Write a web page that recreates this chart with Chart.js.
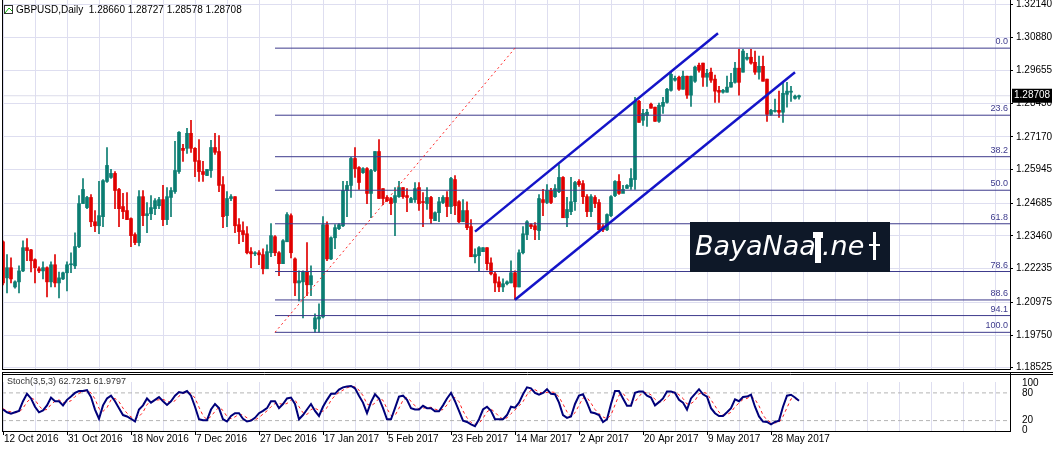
<!DOCTYPE html>
<html><head><meta charset="utf-8">
<script src="https://cdn.jsdelivr.net/npm/chart.js@4/dist/chart.umd.min.js"></script>
<style>
html,body{margin:0;padding:0;background:#fff;width:1053px;height:451px;overflow:hidden;position:relative}
#c1{position:absolute;left:0;top:-10px}
#c2{position:absolute;left:0;top:372px}
</style></head><body>
<canvas id="c1" width="1053" height="389"></canvas>
<canvas id="c2" width="1053" height="79"></canvas>
<script>
const symbolTitle = 'GBPUSD,Daily  1.28660 1.28727 1.28578 1.28708';
const stochTitle = 'Stoch(3,5,3) 62.7231 61.9797';
const dateLabels = ['12 Oct 2016','31 Oct 2016','18 Nov 2016','7 Dec 2016','27 Dec 2016','17 Jan 2017','5 Feb 2017','23 Feb 2017','14 Mar 2017','2 Apr 2017','20 Apr 2017','9 May 2017','28 May 2017'];
const priceTicks = [1.32140,1.30880,1.29655,1.28430,1.27170,1.25945,1.24685,1.23460,1.22235,1.20975,1.19750,1.18525];
const lastPrice = 1.28708;
const opens = [1.2324,1.2189,1.2227,1.2155,1.2174,1.2215,1.2302,1.2294,1.2257,1.2223,1.2215,1.2227,1.2174,1.2238,1.2170,1.2185,1.2208,1.2238,1.2234,1.2306,1.2467,1.2452,1.2490,1.2399,1.2384,1.2418,1.2550,1.2565,1.2580,1.2520,1.2456,1.2441,1.2411,1.2351,1.2321,1.2493,1.2422,1.2429,1.2448,1.2459,1.2482,1.2407,1.2490,1.2512,1.2587,1.2674,1.2674,1.2730,1.2674,1.2628,1.2587,1.2572,1.2591,1.2677,1.2662,1.2538,1.2422,1.2486,1.2493,1.2388,1.2366,1.2354,1.2287,1.2279,1.2283,1.2276,1.2223,1.2283,1.2343,1.2283,1.2242,1.2324,1.2422,1.2260,1.2170,1.2174,1.2211,1.2163,1.1998,1.2035,1.2043,1.2388,1.2260,1.2339,1.2373,1.2384,1.2516,1.2535,1.2636,1.2602,1.2583,1.2598,1.2505,1.2591,1.2662,1.2523,1.2490,1.2486,1.2471,1.2493,1.2527,1.2497,1.2471,1.2482,1.2527,1.2474,1.2467,1.2490,1.2403,1.2433,1.2471,1.2490,1.2456,1.2557,1.2474,1.2399,1.2441,1.2381,1.2268,1.2272,1.2287,1.2302,1.2245,1.2204,1.2174,1.2155,1.2167,1.2170,1.2208,1.2155,1.2283,1.2351,1.2388,1.2384,1.2366,1.2482,1.2471,1.2516,1.2493,1.2512,1.2565,1.2414,1.2437,1.2474,1.2550,1.2542,1.2493,1.2437,1.2490,1.2471,1.2381,1.2369,1.2422,1.2497,1.2550,1.2505,1.2524,1.2531,1.2557,1.2850,1.2779,1.2797,1.2839,1.2828,1.2775,1.2831,1.2846,1.2891,1.2929,1.2940,1.2895,1.2944,1.2873,1.2925,1.2985,1.2993,1.2940,1.2959,1.2933,1.2891,1.2884,1.2884,1.2903,1.2921,1.2974,1.2959,1.3008,1.3015,1.2996,1.2959,1.2981,1.2933,1.2801,1.2812,1.2816,1.2809,1.2876,1.2884,1.2861,1.2866];
const highs = [1.2328,1.2276,1.2264,1.2178,1.2234,1.2328,1.2336,1.2296,1.2260,1.2230,1.2249,1.2230,1.2249,1.2276,1.2211,1.2211,1.2249,1.2283,1.2358,1.2497,1.2561,1.2494,1.2501,1.2441,1.2550,1.2557,1.2677,1.2595,1.2587,1.2524,1.2505,1.2508,1.2414,1.2358,1.2516,1.2516,1.2471,1.2497,1.2486,1.2490,1.2535,1.2527,1.2527,1.2700,1.2737,1.2689,1.2749,1.2779,1.2677,1.2707,1.2625,1.2595,1.2704,1.2730,1.2722,1.2568,1.2512,1.2501,1.2493,1.2411,1.2399,1.2381,1.2302,1.2287,1.2291,1.2298,1.2313,1.2392,1.2347,1.2287,1.2332,1.2433,1.2429,1.2264,1.2215,1.2215,1.2321,1.2234,1.2054,1.2092,1.2418,1.2399,1.2343,1.2388,1.2392,1.2550,1.2550,1.2640,1.2677,1.2606,1.2602,1.2602,1.2595,1.2662,1.2707,1.2523,1.2497,1.2490,1.2527,1.2550,1.2527,1.2523,1.2490,1.2546,1.2546,1.2508,1.2527,1.2494,1.2436,1.2490,1.2497,1.2512,1.2565,1.2572,1.2478,1.2482,1.2474,1.2407,1.2298,1.2306,1.2302,1.2302,1.2264,1.2211,1.2193,1.2185,1.2178,1.2253,1.2215,1.2294,1.2381,1.2403,1.2392,1.2396,1.2501,1.2520,1.2538,1.2524,1.2538,1.2613,1.2568,1.2490,1.2565,1.2550,1.2557,1.2553,1.2501,1.2501,1.2497,1.2482,1.2388,1.2429,1.2497,1.2553,1.2576,1.2535,1.2538,1.2598,1.2865,1.2854,1.2820,1.2820,1.2843,1.2828,1.2843,1.2865,1.2899,1.2959,1.2944,1.2944,1.2963,1.2944,1.2944,1.2982,1.2993,1.2993,1.2970,1.2974,1.2948,1.2906,1.2895,1.2944,1.2955,1.2996,1.3045,1.3045,1.3030,1.3045,1.3038,1.3019,1.3019,1.2933,1.2820,1.2858,1.2888,1.2921,1.2921,1.2906,1.2873,1.2873];
const lows = [1.2163,1.2133,1.2170,1.2150,1.2133,1.2212,1.2253,1.2211,1.2170,1.2208,1.2185,1.2118,1.2155,1.2155,1.2114,1.2182,1.2140,1.2208,1.2223,1.2302,1.2467,1.2448,1.2381,1.2362,1.2354,1.2381,1.2546,1.2561,1.2448,1.2381,1.2411,1.2407,1.2306,1.2313,1.2309,1.2384,1.2358,1.2407,1.2426,1.2448,1.2384,1.2388,1.2418,1.2505,1.2580,1.2625,1.2655,1.2659,1.2568,1.2550,1.2550,1.2572,1.2565,1.2651,1.2512,1.2377,1.2381,1.2478,1.2358,1.2317,1.2324,1.2279,1.2227,1.2272,1.2238,1.2204,1.2223,1.2268,1.2272,1.2197,1.2242,1.2324,1.2264,1.2122,1.2103,1.2039,1.2122,1.2122,1.1986,1.1986,1.2039,1.2253,1.2257,1.2298,1.2369,1.2381,1.2418,1.2490,1.2565,1.2520,1.2580,1.2467,1.2414,1.2587,1.2486,1.2463,1.2474,1.2426,1.2347,1.2490,1.2486,1.2437,1.2471,1.2471,1.2441,1.2381,1.2445,1.2392,1.2403,1.2399,1.2467,1.2418,1.2429,1.2426,1.2396,1.2399,1.2369,1.2268,1.2245,1.2215,1.2287,1.2219,1.2200,1.2137,1.2137,1.2137,1.2163,1.2170,1.2107,1.2155,1.2279,1.2332,1.2373,1.2332,1.2332,1.2422,1.2467,1.2467,1.2490,1.2508,1.2414,1.2381,1.2426,1.2441,1.2531,1.2467,1.2418,1.2418,1.2452,1.2369,1.2362,1.2366,1.2418,1.2493,1.2501,1.2508,1.2524,1.2520,1.2520,1.2771,1.2760,1.2756,1.2824,1.2775,1.2771,1.2805,1.2843,1.2888,1.2925,1.2891,1.2895,1.2861,1.2831,1.2921,1.2959,1.2906,1.2906,1.2921,1.2846,1.2846,1.2880,1.2884,1.2903,1.2918,1.2873,1.2959,1.3004,1.2989,1.2951,1.2933,1.2925,1.2775,1.2797,1.2809,1.2790,1.2771,1.2828,1.2850,1.2858,1.2858];
const closes = [1.2170,1.2227,1.2185,1.2174,1.2215,1.2302,1.2291,1.2253,1.2227,1.2215,1.2227,1.2174,1.2238,1.2170,1.2189,1.2208,1.2238,1.2240,1.2306,1.2467,1.2520,1.2490,1.2399,1.2384,1.2422,1.2553,1.2610,1.2580,1.2516,1.2448,1.2437,1.2407,1.2347,1.2321,1.2493,1.2422,1.2429,1.2452,1.2478,1.2482,1.2407,1.2493,1.2516,1.2591,1.2734,1.2666,1.2730,1.2674,1.2625,1.2587,1.2576,1.2595,1.2677,1.2659,1.2535,1.2418,1.2486,1.2493,1.2384,1.2362,1.2351,1.2283,1.2279,1.2283,1.2275,1.2223,1.2287,1.2347,1.2283,1.2242,1.2328,1.2426,1.2283,1.2170,1.2178,1.2211,1.2163,1.2197,1.2039,1.2043,1.2388,1.2260,1.2339,1.2377,1.2388,1.2516,1.2535,1.2636,1.2598,1.2546,1.2598,1.2505,1.2591,1.2662,1.2486,1.2486,1.2478,1.2467,1.2497,1.2527,1.2493,1.2490,1.2486,1.2523,1.2467,1.2471,1.2490,1.2411,1.2433,1.2474,1.2490,1.2456,1.2561,1.2459,1.2399,1.2441,1.2377,1.2268,1.2276,1.2302,1.2302,1.2242,1.2204,1.2170,1.2155,1.2167,1.2174,1.2208,1.2155,1.2283,1.2354,1.2399,1.2381,1.2369,1.2486,1.2471,1.2516,1.2471,1.2523,1.2565,1.2414,1.2445,1.2474,1.2546,1.2538,1.2493,1.2437,1.2493,1.2467,1.2369,1.2369,1.2426,1.2493,1.2550,1.2505,1.2520,1.2535,1.2561,1.2850,1.2771,1.2805,1.2809,1.2824,1.2775,1.2835,1.2846,1.2895,1.2951,1.2936,1.2895,1.2944,1.2873,1.2944,1.2978,1.2966,1.2940,1.2955,1.2929,1.2888,1.2884,1.2891,1.2903,1.2921,1.2974,1.2921,1.3038,1.3015,1.2993,1.2959,1.2981,1.2925,1.2801,1.2816,1.2816,1.2809,1.2880,1.2888,1.2888,1.2869,1.2871];
const stochK = [44,38,35,38,41,62,78,68,50,38,42,53,70,62,62,53,65,72,80,84,84,86,71,44,24,53,68,74,62,47,32,29,24,18,44,53,68,59,65,71,62,54,62,74,82,80,84,74,50,23,21,21,44,56,47,23,18,30,36,36,24,18,20,26,36,41,47,62,62,47,56,68,70,56,23,32,44,56,41,30,50,65,78,78,87,92,94,95,90,74,59,36,60,77,68,47,23,23,47,72,74,65,47,44,44,52,47,47,40,40,53,68,80,62,41,20,17,12,8,23,44,50,41,23,23,23,32,50,48,59,77,92,90,80,76,80,88,78,77,59,32,26,29,56,74,77,59,38,36,32,17,23,56,84,84,68,52,52,80,83,83,74,70,53,60,68,83,83,80,65,59,44,68,78,88,77,72,47,36,30,30,38,47,66,62,71,72,76,50,29,18,17,12,17,20,50,74,76,70,63];
const stochD = [46,41,39,37,38,47,60,69,65,52,43,44,55,62,65,59,60,63,72,79,83,85,80,67,46,40,48,65,68,61,47,36,28,24,29,38,55,60,64,65,66,62,59,63,73,79,82,79,69,49,31,22,29,40,49,42,29,24,28,34,32,26,21,21,27,34,41,50,57,57,55,57,65,65,50,37,33,44,47,42,40,48,64,74,81,86,91,94,93,86,74,56,52,58,68,64,46,31,31,47,64,70,62,52,45,47,48,49,45,42,44,54,67,70,61,41,26,16,12,14,25,39,45,38,29,23,26,35,43,52,61,76,86,87,82,79,81,82,81,71,56,39,29,37,53,69,70,58,44,35,28,24,32,54,75,79,68,57,61,72,82,80,76,66,61,60,70,78,82,76,68,56,57,63,78,81,79,65,52,38,32,33,38,50,58,66,68,73,66,52,32,21,16,15,16,29,48,67,68,62];
const fibHigh = 1.3049, fibLow = 1.1985, fibStartBar = 68;
const fibRatios = [0.0,23.6,38.2,50.0,61.8,78.6,88.6,94.1,100.0];
const diagLine = [[68,1.1985],[128,1.3049]];
const channelUpper = [[118,1.2362],[178.75,1.3105]];
const channelLower = [[128,1.2107],[198,1.2959]];
const stochLevels = [80,20];

const BULL='#0b7d72', BEAR='#e00000', FIBC='#3d3a8c', FONT='"Liberation Sans", Arial, sans-serif';
const XMIN=-0.25, XMAX=251.75, AXW=43, OFF=10;
const idx = closes.map((_,i)=>i);
const candleCol = idx.map(i=>closes[i]>=opens[i]?BULL:BEAR);
const fibLevels = fibRatios.map(r=>fibHigh-(fibHigh-fibLow)*r/100);

const datasets=[];
datasets.push({type:'bar',data:idx.map(i=>({x:i,y:[lows[i],highs[i]]})),backgroundColor:candleCol,barThickness:1,grouped:false,order:5});
datasets.push({type:'bar',data:idx.map(i=>({x:i,y:[opens[i],closes[i]]})),backgroundColor:candleCol,barThickness:3,minBarLength:1,grouped:false,order:4});
fibLevels.forEach(v=>datasets.push({type:'line',data:[{x:fibStartBar,y:v},{x:XMAX,y:v}],borderColor:FIBC,borderWidth:1,pointRadius:0,order:3}));
datasets.push({type:'line',data:diagLine.map(p=>({x:p[0],y:p[1]})),borderColor:'#ff2020',borderWidth:1,borderDash:[2,3],pointRadius:0,order:2});
[channelUpper,channelLower].forEach(l=>datasets.push({type:'line',data:l.map(p=>({x:p[0],y:p[1]})),borderColor:'#1414c8',borderWidth:2.5,pointRadius:0,order:1}));
datasets.push({type:'line',data:[{x:XMIN,y:lastPrice},{x:XMAX,y:lastPrice}],borderColor:'#dcdcea',borderWidth:1,pointRadius:0,order:9});

const gridTicks=[];for(let i=0;i<=248;i+=8)gridTicks.push(i);

const mainPlugin={id:'mp',
 afterDatasetsDraw(c){
  const ctx=c.ctx,a=c.chartArea,y=c.scales.y;
  ctx.save();
  ctx.font='9px '+FONT;ctx.fillStyle=FIBC;ctx.textAlign='right';ctx.textBaseline='bottom';
  fibRatios.forEach((r,k)=>ctx.fillText(r.toFixed(1),a.right-2,y.getPixelForValue(fibLevels[k])-2));
  ctx.fillStyle='#0e1828';ctx.fillRect(690,222+OFF,200,50);
  ctx.fillStyle='#ffffff';ctx.font='italic 27px "DejaVu Sans", sans-serif';ctx.textAlign='left';ctx.textBaseline='middle';
  ctx.fillText('BayaNaa',695,248+OFF);
  ctx.fillRect(815,235+OFF,6,28);ctx.fillRect(813,232+OFF,10,6);
  ctx.fillText('.ne',822,248+OFF);
  ctx.fillRect(873,232+OFF,3,28);ctx.fillRect(869,244+OFF,11,2);
  ctx.fillStyle='#000';ctx.font='10px '+FONT;ctx.textBaseline='top';
  ctx.fillText(symbolTitle,16,5+OFF);
  ctx.strokeStyle='#333';ctx.lineWidth=1;ctx.strokeRect(4.5,5.5+OFF,8,8);
  ctx.beginPath();ctx.moveTo(5,13+OFF);ctx.lineTo(9,8+OFF);ctx.lineTo(12,11+OFF);ctx.strokeStyle='#0a0';ctx.stroke();
  ctx.strokeStyle='#000';ctx.lineWidth=1;
  ctx.beginPath();ctx.moveTo(a.left+0.5,OFF);ctx.lineTo(a.left+0.5,a.bottom);ctx.moveTo(a.right+0.5,OFF);ctx.lineTo(a.right+0.5,a.bottom);ctx.moveTo(a.left,a.bottom-0.5);ctx.lineTo(a.right,a.bottom-0.5);ctx.stroke();
  const py=y.getPixelForValue(lastPrice);
  ctx.fillStyle='#000';ctx.fillRect(a.right+2,py-7,40,14);
  ctx.fillStyle='#fff';ctx.font='10px '+FONT;ctx.textAlign='left';ctx.textBaseline='middle';ctx.fillText(lastPrice.toFixed(5),a.right+4,py);
  ctx.restore();
 }};

new Chart(document.getElementById('c1'),{
 data:{datasets},
 plugins:[mainPlugin],
 options:{responsive:false,animation:false,devicePixelRatio:1,
  layout:{padding:{left:2,top:0,right:0,bottom:0}},
  plugins:{legend:{display:false},tooltip:{enabled:false}},
  scales:{
   x:{type:'linear',min:XMIN,max:XMAX,offset:false,
      afterBuildTicks:s=>{s.ticks=gridTicks.map(v=>({value:v}));},
      afterFit:s=>{s.height=0;},
      ticks:{display:false},border:{display:false},
      grid:{color:'#dedef0',drawTicks:false,offset:false}},
   y:{position:'right',min:1.1844,max:1.3233,
      afterBuildTicks:s=>{s.ticks=priceTicks.map(v=>({value:v}));},
      afterFit:s=>{s.width=AXW;},
      ticks:{color:'#000',font:{family:FONT,size:10},padding:3,callback:v=>v.toFixed(5)},
      border:{display:false},
      grid:{color:'#dedef0',drawTicks:true,tickLength:3,tickColor:'#000'}}
  }}});

const stochPlugin={id:'sp',
 afterDatasetsDraw(c){
  const ctx=c.ctx,a=c.chartArea,x=c.scales.x;
  ctx.save();
  ctx.strokeStyle='#000';ctx.lineWidth=1;
  ctx.beginPath();ctx.moveTo(a.left,0.5);ctx.lineTo(a.right+AXW,0.5);ctx.moveTo(a.left,2.5);ctx.lineTo(a.right+AXW,2.5);
  ctx.moveTo(a.left+0.5,0);ctx.lineTo(a.left+0.5,a.bottom);ctx.moveTo(a.right+0.5,0);ctx.lineTo(a.right+0.5,a.bottom+1);
  ctx.moveTo(a.left,a.bottom+0.5);ctx.lineTo(a.right,a.bottom+0.5);ctx.stroke();
  ctx.fillStyle='#000';ctx.font='10px '+FONT;ctx.textAlign='left';ctx.textBaseline='top';
  dateLabels.forEach((d,k)=>{const px=Math.round(x.getPixelForValue(k*16));
    ctx.beginPath();ctx.moveTo(px+0.5,a.bottom);ctx.lineTo(px+0.5,a.bottom+4);ctx.stroke();
    ctx.fillText(d,px+1,a.bottom+3);});
  ctx.fillStyle='#333';ctx.font='9px '+FONT;ctx.fillText(stochTitle,7,5);
  ctx.restore();
 }};
const sds=[
 {type:'line',data:idx.map(i=>({x:i,y:stochD[i]})),borderColor:'#ff2020',borderWidth:1,borderDash:[3,3],pointRadius:0,order:2},
 {type:'line',data:idx.map(i=>({x:i,y:stochK[i]})),borderColor:'#00007a',borderWidth:2,pointRadius:0,order:1}];
stochLevels.forEach(v=>sds.push({type:'line',data:[{x:XMIN,y:v},{x:XMAX,y:v}],borderColor:'#b4b4b4',borderWidth:1,borderDash:[4,3],pointRadius:0,order:3}));
new Chart(document.getElementById('c2'),{
 data:{datasets:sds},plugins:[stochPlugin],
 options:{responsive:false,animation:false,devicePixelRatio:1,
  layout:{padding:{left:2,top:0,right:0,bottom:20}},
  plugins:{legend:{display:false},tooltip:{enabled:false}},
  scales:{
   x:{type:'linear',min:XMIN,max:XMAX,offset:false,
      afterBuildTicks:s=>{s.ticks=gridTicks.map(v=>({value:v}));},
      afterFit:s=>{s.height=0;},ticks:{display:false},border:{display:false},
      grid:{color:'#dedef0',drawTicks:false}},
   y:{position:'right',min:-2.5,max:103.6,
      afterBuildTicks:s=>{s.ticks=[100,80,20,0].map(v=>({value:v}));},
      afterFit:s=>{s.width=AXW;},
      ticks:{color:'#000',font:{family:FONT,size:10},padding:4},
      border:{display:false},grid:{display:false}}
  }}});
</script></body></html>
